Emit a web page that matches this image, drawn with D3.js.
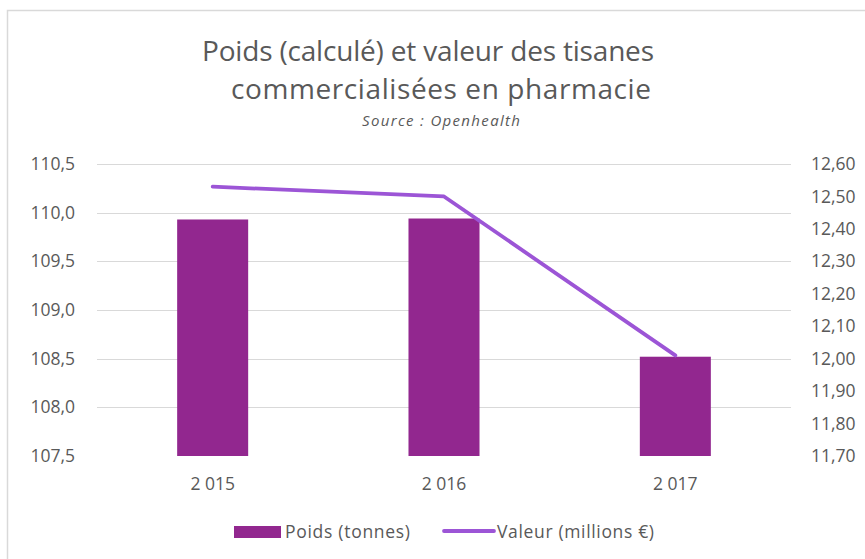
<!DOCTYPE html>
<html><head><meta charset="utf-8">
<script src="https://cdn.jsdelivr.net/npm/d3@7"></script>
<style>body{margin:0;background:#fff}svg{display:block;font-family:"Open Sans",sans-serif}</style>
</head><body><svg id="c" width="865" height="559"></svg>
<script>
const categories = ["2 015", "2 016", "2 017"];
const poids = [109.93, 109.94, 108.52];
const valeur = [12.53, 12.50, 12.01];
const leftTicks = [107.5, 108.0, 108.5, 109.0, 109.5, 110.0, 110.5];
const rightTicks = [11.7, 11.8, 11.9, 12.0, 12.1, 12.2, 12.3, 12.4, 12.5, 12.6];

(function () {
const svg = d3.select("#c");
const txt = "#595959";
const pL = 97, pR = 791, pT = 164, pB = 456;
const fs = "17.5px";

svg.append("rect").attr("x", 7.5).attr("y", 10.5).attr("width", 900).attr("height", 600)
  .attr("fill", "none").attr("stroke", "#d9d9d9").attr("stroke-width", 1.5);

const x = d3.scaleBand().domain(categories).range([pL, pR]).padding(0);
const yL = d3.scaleLinear().domain([107.5, 110.5]).range([pB, pT]);
const yR = d3.scaleLinear().domain([11.7, 12.6]).range([pB, pT]);
const fmt1 = v => d3.format(".1f")(v).replace(".", ",");
const fmt2 = v => d3.format(".2f")(v).replace(".", ",");

// gridlines
svg.append("g").selectAll("line").data(leftTicks.slice(1)).join("line")
  .attr("x1", pL).attr("x2", pR)
  .attr("y1", d => Math.round(yL(d)) + 0.5).attr("y2", d => Math.round(yL(d)) + 0.5)
  .attr("stroke", "#d9d9d9").attr("stroke-width", 1);

// left axis
const gL = svg.append("g").attr("transform", `translate(${pL - 22},0)`)
  .call(d3.axisLeft(yL).tickValues(leftTicks).tickFormat(fmt1).tickSize(0).tickPadding(0));
gL.select(".domain").remove();
gL.selectAll("text").attr("fill", txt).style("font-size", fs).style("font-family", "'Open Sans',sans-serif");

// right axis
const gR = svg.append("g").attr("transform", `translate(${pR + 20},0)`)
  .call(d3.axisRight(yR).tickValues(rightTicks).tickFormat(fmt2).tickSize(0).tickPadding(0));
gR.select(".domain").remove();
gR.selectAll("text").attr("fill", txt).style("font-size", fs).style("font-family", "'Open Sans',sans-serif");

// x axis labels
const gX = svg.append("g").attr("transform", `translate(0,${pB + 21.5})`)
  .call(d3.axisBottom(x).tickSize(0).tickPadding(0));
gX.select(".domain").remove();
gX.selectAll("text").attr("fill", txt).style("font-size", fs).style("font-family", "'Open Sans',sans-serif");

// bars
const bw = x.bandwidth() * 0.307;
svg.append("g").selectAll("rect").data(poids).join("rect")
  .attr("x", (d, i) => x(categories[i]) + x.bandwidth() / 2 - bw / 2)
  .attr("width", bw)
  .attr("y", d => yL(d))
  .attr("height", d => yL(107.5) - yL(d))
  .attr("fill", "#92278f");

// line
const line = d3.line().x((d, i) => x(categories[i]) + x.bandwidth() / 2).y(d => yR(d));
svg.append("path").datum(valeur).attr("d", line)
  .attr("fill", "none").attr("stroke", "#9c55d6").attr("stroke-width", 3.8)
  .attr("stroke-linecap", "round").attr("stroke-linejoin", "round");

// title
svg.append("text").attr("x", 428).attr("y", 61).attr("text-anchor", "middle")
  .attr("fill", txt).style("font-size", "28px")
  .attr("textLength", 452).attr("lengthAdjust", "spacing")
  .text("Poids (calculé) et valeur des tisanes");
svg.append("text").attr("x", 441).attr("y", 99).attr("text-anchor", "middle")
  .attr("fill", txt).style("font-size", "28px")
  .attr("textLength", 420).attr("lengthAdjust", "spacing")
  .text("commercialisées en pharmacie");
svg.append("text").attr("x", 441).attr("y", 126).attr("text-anchor", "middle")
  .attr("fill", txt).style("font-size", "15px").style("font-style", "italic")
  .attr("textLength", 158).attr("lengthAdjust", "spacing")
  .text("Source : Openhealth");

// legend
const lg = svg.append("g");
lg.append("rect").attr("x", 234).attr("y", 526).attr("width", 47).attr("height", 12).attr("fill", "#92278f");
lg.append("text").attr("x", 285).attr("y", 538).attr("fill", txt).style("font-size", fs)
  .attr("textLength", 125).attr("lengthAdjust", "spacing").text("Poids (tonnes)");
lg.append("line").attr("x1", 444).attr("x2", 494).attr("y1", 531).attr("y2", 531)
  .attr("stroke", "#9c55d6").attr("stroke-width", 3.8).attr("stroke-linecap", "round");
lg.append("text").attr("x", 497).attr("y", 538).attr("fill", txt).style("font-size", fs)
  .attr("textLength", 157).attr("lengthAdjust", "spacing").text("Valeur (millions €)");
})();
</script></body></html>
